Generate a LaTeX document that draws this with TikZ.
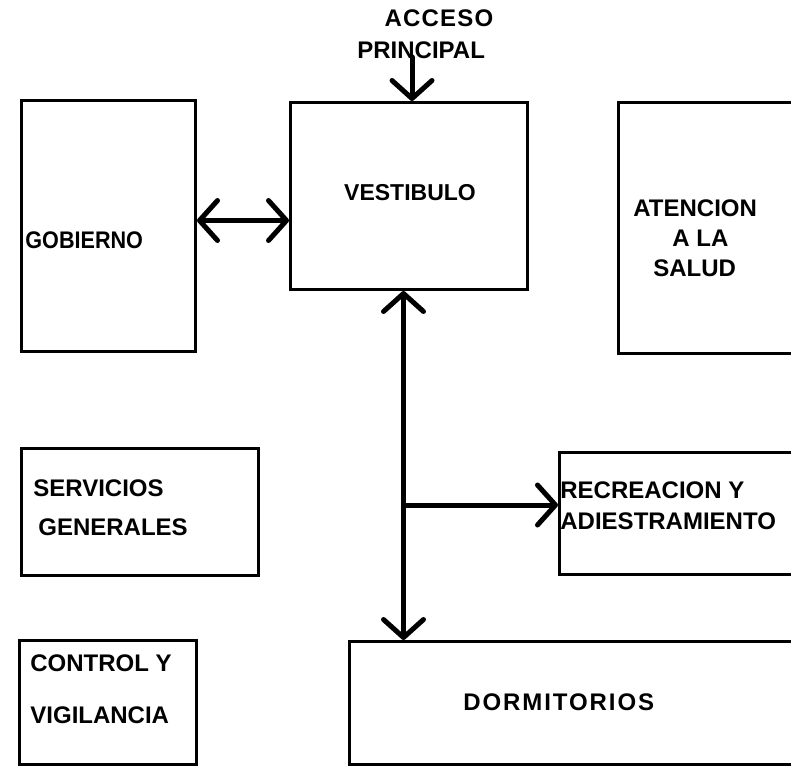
\documentclass[tikz,border=0pt]{standalone}
\usepackage{fontspec}
\setmainfont{Liberation Sans}
\usetikzlibrary{arrows.meta,positioning}
\tikzset{
  room/.style={draw=black,line width=1.5pt,inner sep=0pt,anchor=north west},
  lbl/.style={font=\bfseries\fontsize{12}{15}\selectfont,inner sep=0pt,align=left},
  flow/.style={-{Straight Barb[length=9pt,width=20pt,round]},line width=2.5pt,line cap=round},
  flowtwo/.style={{Straight Barb[length=9pt,width=20pt,round]}-{Straight Barb[length=9pt,width=20pt,round]},line width=2.5pt,line cap=round}
}
\begin{document}
\begin{tikzpicture}[x=0.5pt,y=-0.5pt]
  \useasboundingbox (0,0) rectangle (791,767);
  \clip (0,0) rectangle (791,767);
  % rooms
  \node[room,minimum width=87pt,minimum height=125.5pt] (gob) at (20,99) {};
  \node[room,minimum width=118.5pt,minimum height=93.5pt] (vest) at (289,101) {};
  \node[room,minimum width=106.5pt,minimum height=125.5pt] (salud) at (617,101) {};
  \node[room,minimum width=118.5pt,minimum height=63.5pt] (serv) at (20,447) {};
  \node[room,minimum width=136pt,minimum height=61pt] (recr) at (558,451) {};
  \node[room,minimum width=88.5pt,minimum height=62pt] (ctrl) at (18,639) {};
  \node[room,minimum width=241pt,minimum height=61.5pt] (dorm) at (348,640) {};
  % labels
  \node[lbl] (acct) at (439,18) {\addfontfeature{LetterSpace=5}ACCESO};
  \node[lbl,anchor=west] (princ) at (357,50) {PRINCIPAL};
  \node[lbl,font=\bfseries\fontsize{11.5}{15}\selectfont] (vestt) at (410,193) {VESTIBULO};
  \node[lbl,anchor=west] (gobt) at (25,240) {\scalebox{0.9}[1]{GOBIERNO}};
  \node[lbl,anchor=west] (saludt) at (633,238) {ATENCION\\\hspace{19.5pt}A LA\\\hspace{10pt}SALUD};
  \node[lbl,anchor=west,font=\bfseries\fontsize{12}{19.5}\selectfont] (servt) at (33,507.5) {SERVICIOS\\\hspace{2.5pt}GENERALES};
  \node[lbl,anchor=west,font=\bfseries\fontsize{12}{15.5}\selectfont] (recrt) at (560,506) {RECREACION Y\\ADIESTRAMIENTO};
  \node[lbl,anchor=west,font=\bfseries\fontsize{12}{26}\selectfont] (ctrlt) at (30,689) {CONTROL Y\\VIGILANCIA};
  \node[lbl,anchor=west] (dormt) at (463,702) {\addfontfeature{LetterSpace=8}DORMITORIOS};
  % connections
  \coordinate (acc) at (412,57);
  \draw[flow] (acc) -- (acc |- vest.north);
  \draw[flowtwo] ([yshift=2.75pt]gob.east) -- ([yshift=2.75pt]gob.east -| vest.west);
  \draw[flowtwo] ([xshift=-2.75pt]vest.south) -- ([xshift=-2.75pt]vest.south |- dorm.north);
  \coordinate (br) at (402,505);
  \draw[line width=2.5pt,-{Straight Barb[length=9pt,width=20pt,round]}] (br) -- (br -| recr.west);
\end{tikzpicture}
\end{document}
